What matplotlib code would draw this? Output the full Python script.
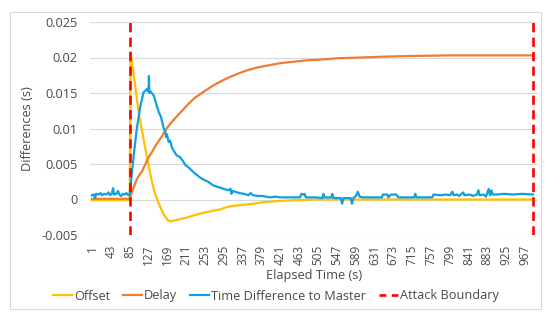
import matplotlib
matplotlib.use("Agg")
import matplotlib.pyplot as plt
from matplotlib.patches import Rectangle
from matplotlib.lines import Line2D

# ---------------- data ----------------
tick_labels = [1, 43, 85, 127, 169, 211, 253, 295, 337, 379, 421, 463, 505,
               547, 589, 631, 673, 715, 757, 799, 841, 883, 925, 967]

attack_start = 85
attack_end = 985

offset_t = [1, 85, 87, 97, 105, 113, 124, 135, 140, 146, 150, 155, 160, 165,
            170, 175, 180, 190, 200, 210, 220, 230, 242, 255, 270, 287, 300,
            315, 330, 345, 360, 380, 400, 420, 450, 500, 985]
offset_v = [-0.0001, -0.0001, 0.0208, 0.0161, 0.0123, 0.0095, 0.0058, 0.0024,
            0.0012, 0.0001, -0.0006, -0.0013, -0.0020, -0.0025, -0.0029,
            -0.0031, -0.0030, -0.0029, -0.0027, -0.0026, -0.0024, -0.0022,
            -0.0020, -0.0018, -0.0016, -0.0014, -0.0011, -0.0009, -0.0008,
            -0.0007, -0.0006, -0.0004, -0.0003, -0.0002, -0.0001, 0.0, 0.0]

delay_t = [1, 85, 90, 95, 100, 105, 113, 120, 127, 135, 145, 157, 164, 176,
           190, 202, 215, 230, 253, 270, 287, 310, 330, 347, 370, 395, 421,
           450, 480, 510, 550, 600, 644, 700, 800, 985]
delay_v = [0.0001, 0.0001, 0.0010, 0.0019, 0.0027, 0.0033, 0.0040, 0.0050,
           0.0059, 0.0067, 0.0078, 0.0089, 0.0097, 0.0107, 0.0117, 0.0125,
           0.0134, 0.0143, 0.0153, 0.0160, 0.0166, 0.0173, 0.0178, 0.0182,
           0.0186, 0.0189, 0.0192, 0.0194, 0.0196, 0.0197, 0.0199, 0.0200,
           0.0201, 0.0202, 0.0203, 0.0203]

tdm_t = [1, 5, 8, 10, 15, 20, 23, 28, 33, 38, 41, 45, 48, 50, 55, 59, 62, 66,
         70, 74, 78, 82, 85, 88, 94, 101, 109, 116, 120, 124, 127, 128, 129,
         132, 139, 145, 150, 155, 161, 164, 166, 168, 172, 175, 180, 185,
         190, 197, 204, 210, 215, 220, 230, 242, 250, 260, 271, 280, 290,
         300, 305, 310, 312, 315, 320, 330, 340, 350, 355, 360, 370, 380, 390,
         398, 410, 420, 440, 465, 468, 472, 475, 478, 500, 515, 517, 520, 535,
         537, 540, 556, 559, 562, 578, 581, 584, 590, 594, 598, 605, 630, 648,
         650, 660, 662, 668, 680, 684, 700, 720, 722, 725, 760, 763, 780, 790,
         800, 805, 808, 815, 820, 829, 832, 845, 850, 860, 863, 866, 875, 880,
         886, 889, 892, 895, 905, 920, 940, 960, 985]
tdm_v = [0.0006, 0.0007, 0.0002, 0.0008, 0.0007, 0.0009, 0.0006, 0.0008,
         0.0007, 0.0010, 0.0006, 0.0008, 0.0016, 0.0007, 0.0008, 0.0012,
         0.0007, 0.0005, 0.0008, 0.0007, 0.0009, 0.0006, 0.0007, 0.0025,
         0.0062, 0.0100, 0.0132, 0.0151, 0.0153, 0.0156, 0.0152, 0.0174,
         0.0150, 0.0152, 0.0146, 0.0133, 0.0123, 0.0116, 0.0100, 0.0097,
         0.0088, 0.0092, 0.0081, 0.0083, 0.0072, 0.0067, 0.0062, 0.0060,
         0.0054, 0.0048, 0.0046, 0.0043, 0.0037, 0.0031, 0.0028, 0.0025,
         0.0020, 0.0018, 0.0016, 0.0014, 0.0013, 0.0015, 0.0008, 0.0012,
         0.0011, 0.0009, 0.0008, 0.0006, 0.0009, 0.0006, 0.0005, 0.0005,
         0.0004, 0.0003, 0.0004, 0.0003, 0.0003, 0.0003, 0.0008, 0.0007,
         0.0008, 0.0003, 0.0003, 0.0002, 0.0008, 0.0003, 0.0003, 0.0008,
         0.0002, 0.0002, -0.0006, 0.0002, 0.0002, -0.0006, 0.0002, 0.0005,
         0.0011, 0.0004, 0.0003, 0.0003, 0.0003, 0.0007, 0.0007, 0.0003,
         0.0007, 0.0007, 0.0003, 0.0003, 0.0003, 0.0008, 0.0003, 0.0003,
         0.0007, 0.0006, 0.0007, 0.0006, 0.0011, 0.0006, 0.0007, 0.0005,
         0.0010, 0.0006, 0.0007, 0.0005, 0.0007, 0.0013, 0.0006, 0.0007,
         0.0004, 0.0015, 0.0006, 0.0013, 0.0007, 0.0007, 0.0008, 0.0007,
         0.0008, 0.0007]

series_names = ["Offset", "Delay", "Time Difference to Master", "Attack Boundary"]
y_ticks = [-0.005, 0, 0.005, 0.01, 0.015, 0.02, 0.025]
y_tick_labels = ["-0.005", "0", "0.005", "0.01", "0.015", "0.02", "0.025"]

# ---------------- styling ----------------
C_OFF = "#FFC000"
C_DEL = "#ED7D31"
C_TDM = "#0FA0DF"
C_ATT = "#FF0000"
TXT = "#4A4A4A"
GRID = "#D9D9D9"

plt.rcParams["font.family"] = ["Open Sans", "DejaVu Sans"]

W, H = 550, 322
fig = plt.figure(figsize=(W / 100, H / 100), dpi=100)
fig.patch.set_facecolor("white")

# chart area border
fig.patches.append(Rectangle((10 / W, 1 - 309 / H), 531 / W, 297 / H,
                             transform=fig.transFigure, fill=False,
                             edgecolor=GRID, linewidth=0.8))

ax = fig.add_axes([90 / W, 1 - 235 / H, 448 / W, 213 / H])
ax.set_xlim(-3.5, 996)
ax.set_ylim(-0.005, 0.025)

for s in ax.spines.values():
    s.set_visible(False)
ax.set_yticks(y_ticks)
ax.set_yticklabels(y_tick_labels)
ax.set_xticks(tick_labels)
ax.set_xticklabels([str(t) for t in tick_labels], rotation=90)
ax.tick_params(axis="both", length=0, colors=TXT)
ax.tick_params(axis="y", labelsize=9.2, pad=9)
ax.tick_params(axis="x", labelsize=8.5, pad=7)
ax.grid(axis="y", color=GRID, linewidth=0.8)
ax.set_axisbelow(True)

ax.plot(offset_t, offset_v, color=C_OFF, lw=1.6, zorder=3)
ax.plot(delay_t, delay_v, color=C_DEL, lw=1.6, zorder=4)
ax.plot(tdm_t, tdm_v, color=C_TDM, lw=1.6, zorder=5)
for xv in (attack_start, attack_end):
    ax.axvline(xv, color=C_ATT, lw=1.9, linestyle=(0, (3.5, 2)), zorder=6)

ax.set_xlabel("Elapsed Time (s)", fontsize=9.2, color=TXT, labelpad=3)
ax.set_ylabel("Differences (s)", fontsize=9.2, color=TXT, labelpad=5)

handles = [Line2D([], [], color=C_OFF, lw=1.6),
           Line2D([], [], color=C_DEL, lw=1.6),
           Line2D([], [], color=C_TDM, lw=1.6),
           Line2D([], [], color=C_ATT, lw=1.9, linestyle=(0, (2.6, 2.1)))]
leg = fig.legend(handles, series_names, loc="center", ncol=4,
                 bbox_to_anchor=(276 / W, 1 - 296 / H), frameon=False,
                 fontsize=9.2, handlelength=1.5, handletextpad=0.15,
                 columnspacing=1.0)
for t in leg.get_texts():
    t.set_color(TXT)

fig.savefig("out.png", dpi=100)
